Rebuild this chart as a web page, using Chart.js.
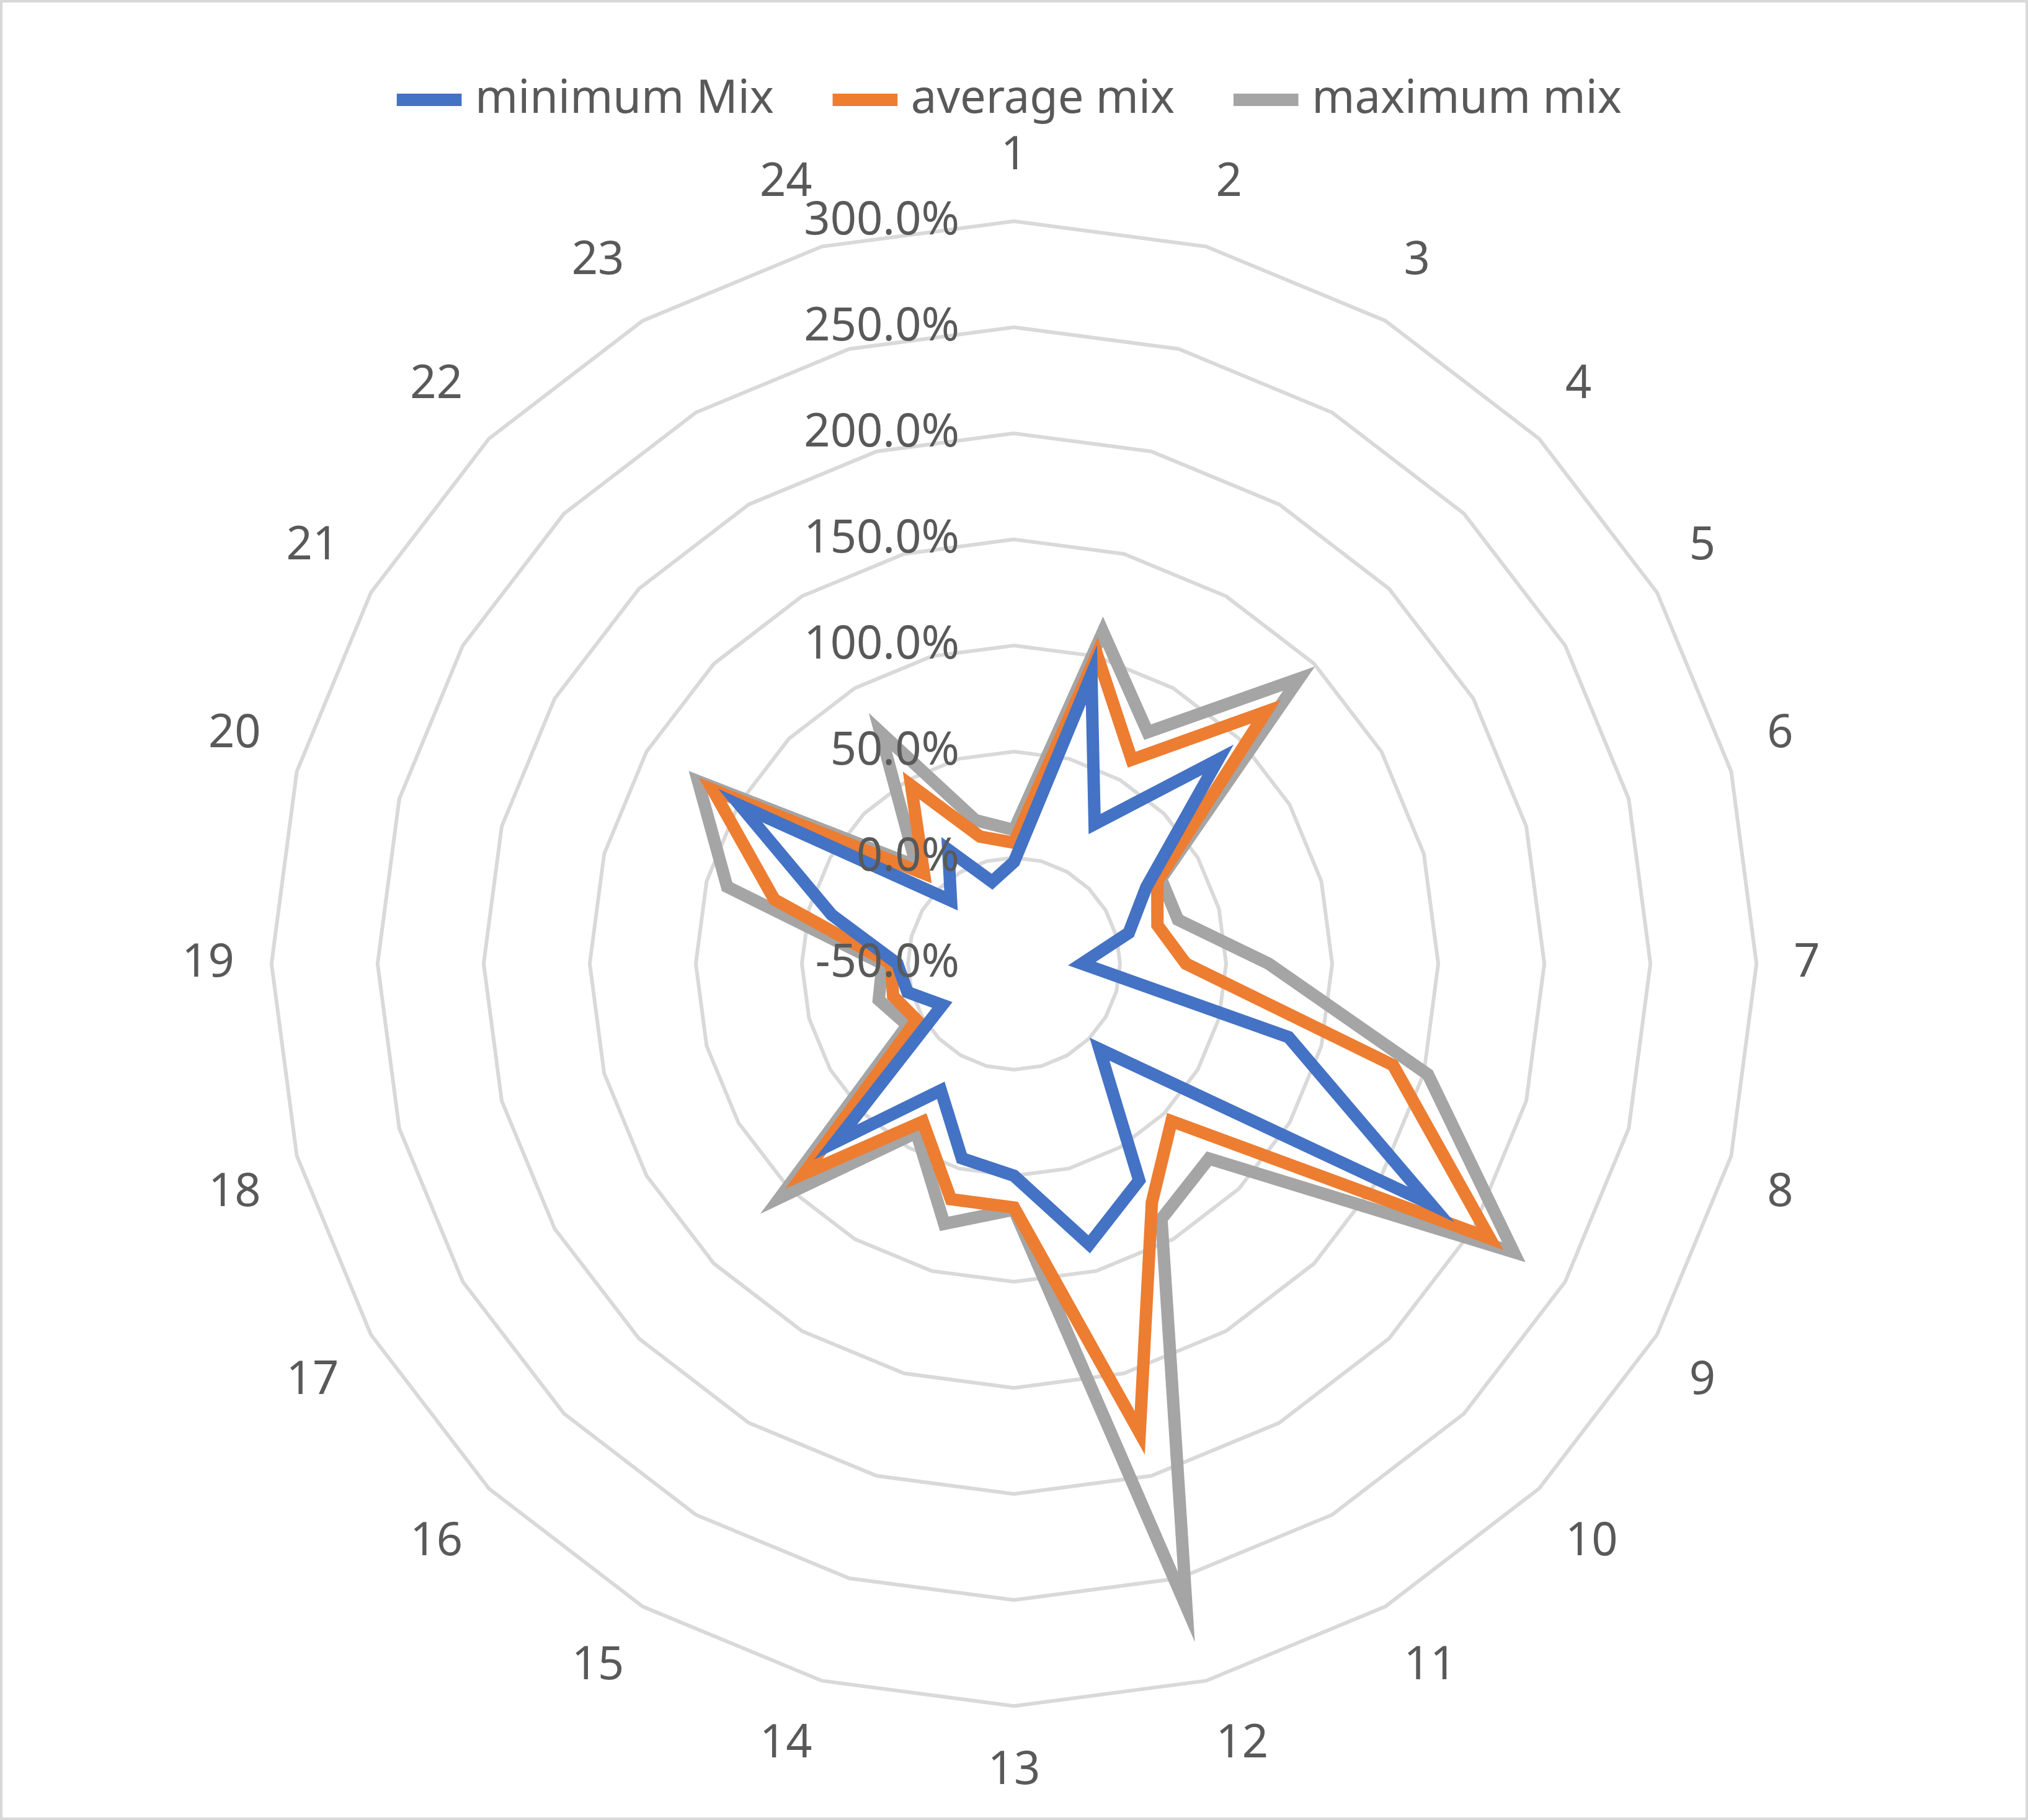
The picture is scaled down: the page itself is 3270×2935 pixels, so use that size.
<!DOCTYPE html>
<html>
<head>
<meta charset="utf-8">
<script src="https://cdn.jsdelivr.net/npm/chart.js@4"></script>
<style>
  html, body { margin: 0; padding: 0; background: #fff; }
  #wrap { width: 3262px; height: 2927px; border: 4px solid #d9d9d9; }
</style>
</head>
<body>
<div id="wrap"><canvas id="radar" width="3262" height="2927"></canvas></div>
<script>
// hours 1..24
const labels = ['1', '2', '3', '4', '5', '6', '7', '8', '9', '10', '11', '12',
    '13', '14', '15', '16', '17', '18', '19', '20', '21', '22', '23', '24'];

// values in percent
const minimumMix = [-2, 91, 26, 86, 22, 6, -18, 84, 177, 7, 68, 87,
    50, 45, 19, 69, -11, 2, 5, 39, 99, -8, 12, -10];
const averageMix = [7, 101, 61, 118, 28, 20, 31, 135, 209, 55, 80, 179,
    65, 65, 36, 90, 3, 9, 8, 67, 114, 10, 47, 12];
const maximumMix = [13, 112, 76, 140, 30, 30, 70, 152, 222, 80, 89, 264,
    66, 77, 42, 106, 8, 16, 12, 90, 122, 15, 76, 20];

const scaleMin = -50;
const scaleMax = 300;
const scaleStep = 50;

const textColor = '#595959';
const fontFamily = 'Noto Sans, Open Sans, sans-serif';

function series(label, data, color) {
    return {
        label: label,
        data: data,
        borderColor: color,
        backgroundColor: color,
        borderWidth: 20,
        pointRadius: 0,
        fill: false,
        tension: 0,
        borderJoinStyle: 'miter',
    };
}

// tick labels drawn right-aligned, left of the centre like the original
const tickLabels = {
    id: 'tickLabels',
    afterDatasetsDraw(chart) {
        const r = chart.scales.r;
        const ctx = chart.ctx;
        ctx.save();
        ctx.fillStyle = textColor;
        ctx.font = '74px ' + fontFamily;
        ctx.textAlign = 'right';
        ctx.textBaseline = 'middle';
        r.ticks.forEach((t) => {
            const d = r.getDistanceFromCenterForValue(t.value);
            ctx.fillText(t.value.toFixed(1) + '%', r.xCenter - 88, r.yCenter - d);
        });
        ctx.restore();
    },
};

new Chart(document.getElementById('radar'), {
    type: 'radar',
    data: {
        labels: labels,
        datasets: [
            series('minimum Mix', minimumMix, '#4472C4'),
            series('average mix', averageMix, '#ED7D31'),
            series('maximum mix', maximumMix, '#A5A5A5'),
        ],
    },
    options: {
        responsive: false,
        animation: false,
        devicePixelRatio: 1,
        layout: { padding: { top: 10, bottom: 30, left: 40, right: 40 } },
        plugins: {
            legend: {
                position: 'top',
                labels: {
                    usePointStyle: true,
                    pointStyle: 'line',
                    boxWidth: 200,
                    padding: 110,
                    color: textColor,
                    font: { size: 74, family: fontFamily },
                },
            },
            tooltip: { enabled: false },
        },
        scales: {
            r: {
                min: scaleMin,
                max: scaleMax,
                angleLines: { display: false },
                grid: { color: '#d9d9d9', lineWidth: 6 },
                pointLabels: {
                    color: textColor,
                    padding: 60,
                    font: { size: 74, family: fontFamily },
                },
                ticks: {
                    stepSize: scaleStep,
                    display: false,
                },
            },
        },
    },
    plugins: [tickLabels],
});
</script>
</body>
</html>
